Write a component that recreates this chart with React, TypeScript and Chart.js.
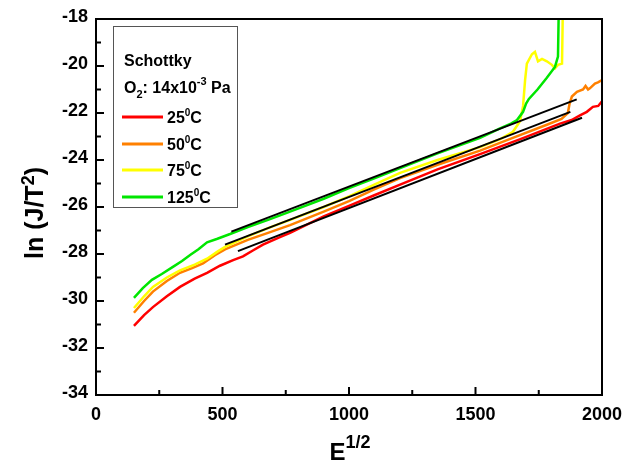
import React, { useEffect, useRef } from "react";
import { Chart, registerables } from "chart.js";
Chart.register(...registerables);

const FONT = '"Liberation Sans", Arial, sans-serif';

// ---- data ----
const redX = [150, 190, 225, 280, 332, 390, 439, 490, 542, 581, 620, 660, 727, 767, 900, 1000, 1100, 1202, 1350, 1518, 1680, 1834, 1880, 1913, 1940, 1964, 1985, 2000];
const redY = [-31.06, -30.6, -30.26, -29.8, -29.4, -29.05, -28.8, -28.5, -28.26, -28.1, -27.85, -27.6, -27.28, -27.1, -26.4, -25.95, -25.5, -25.05, -24.4, -23.75, -23.1, -22.45, -22.3, -22.1, -21.95, -21.74, -21.7, -21.5];

const orangeX = [150, 190, 225, 280, 332, 380, 423, 470, 510, 600, 680, 767, 900, 1000, 1100, 1202, 1350, 1518, 1650, 1782, 1840, 1865, 1872, 1881, 1901, 1925, 1935, 1945, 1952, 1972, 1984, 2000];
const orangeY = [-30.5, -30.0, -29.6, -29.15, -28.8, -28.6, -28.4, -28.05, -27.8, -27.4, -27.1, -26.77, -26.2, -25.75, -25.25, -24.77, -24.2, -23.6, -23.05, -22.5, -22.25, -22.0, -21.6, -21.3, -21.1, -21.0, -20.85, -21.0, -20.95, -20.75, -20.7, -20.6];

const yellowX = [150, 190, 225, 280, 332, 390, 439, 480, 510, 600, 680, 767, 900, 1000, 1100, 1202, 1350, 1518, 1600, 1648, 1676, 1688, 1696, 1703, 1723, 1735, 1747, 1763, 1782, 1802, 1814, 1826, 1842, 1846];
const yellowY = [-30.3, -29.8, -29.4, -29.0, -28.7, -28.45, -28.2, -27.9, -27.7, -27.25, -26.9, -26.55, -26.0, -25.55, -25.05, -24.55, -24.0, -23.45, -23.1, -22.8, -22.35, -21.7, -20.6, -19.9, -19.5, -19.4, -19.8, -19.7, -19.8, -19.95, -20.1, -19.95, -19.9, -17.0];

const greenX = [150, 185, 221, 260, 304, 340, 372, 405, 439, 480, 530, 600, 680, 767, 900, 1000, 1100, 1202, 1350, 1518, 1597, 1640, 1664, 1688, 1700, 1711, 1745, 1782, 1814, 1826, 1830];
const greenY = [-29.87, -29.45, -29.1, -28.85, -28.55, -28.3, -28.04, -27.8, -27.5, -27.35, -27.15, -26.85, -26.55, -26.2, -25.65, -25.2, -24.78, -24.34, -23.72, -23.06, -22.65, -22.45, -22.3, -21.95, -21.6, -21.4, -21.0, -20.5, -20.04, -19.6, -17.0];

const fitGreenX = [535, 1900];
const fitGreenY = [-27.05, -21.42];
const fitYellowX = [510, 1875];
const fitYellowY = [-27.6, -21.95];
const fitRedX = [561, 1921];
const fitRedY = [-27.88, -22.2];

const xMajorTicks = [0, 500, 1000, 1500, 2000];
const xMinorTicks = [250, 750, 1250, 1750];
const yMajorTicks = [-34, -32, -30, -28, -26, -24, -22, -20, -18];
const yMinorTicks = [-33, -31, -29, -27, -25, -23, -21, -19];

const legendTemps = ["25", "50", "75", "125"];
const legendColors = ["#ff0000", "#ff8000", "#ffff00", "#00e600"];

const toPts = (xs: number[], ys: number[]) => xs.map((x, i) => ({ x, y: ys[i] }));

function drawRuns(ctx: CanvasRenderingContext2D, x: number, y: number, runs: { t: string; size: number; dy: number }[], align: "left" | "center" = "left") {
  let total = 0;
  for (const r of runs) {
    ctx.font = `bold ${r.size}px ${FONT}`;
    total += ctx.measureText(r.t).width;
  }
  let cx = align === "center" ? x - total / 2 : x;
  for (const r of runs) {
    ctx.font = `bold ${r.size}px ${FONT}`;
    ctx.fillText(r.t, cx, y + r.dy);
    cx += ctx.measureText(r.t).width;
  }
}

const decorPlugin = {
  id: "decor",
  afterDatasetsDraw(chart: any) {
    const { ctx, chartArea } = chart;
    const { left, right, top, bottom } = chartArea;
    const xs = chart.scales.x;
    const ys = chart.scales.y;
    ctx.save();
    ctx.strokeStyle = "#000";
    ctx.lineWidth = 2;
    ctx.beginPath();
    for (const v of xMajorTicks) {
      const px = xs.getPixelForValue(v);
      ctx.moveTo(px, bottom);
      ctx.lineTo(px, bottom - 8);
    }
    for (const v of xMinorTicks) {
      const px = xs.getPixelForValue(v);
      ctx.moveTo(px, bottom);
      ctx.lineTo(px, bottom - 5);
    }
    for (const v of yMajorTicks) {
      const py = ys.getPixelForValue(v);
      ctx.moveTo(left, py);
      ctx.lineTo(left + 8, py);
    }
    for (const v of yMinorTicks) {
      const py = ys.getPixelForValue(v);
      ctx.moveTo(left, py);
      ctx.lineTo(left + 5, py);
    }
    ctx.stroke();
    ctx.strokeRect(left, top, right - left, bottom - top);

    // legend box
    ctx.lineWidth = 1;
    ctx.strokeStyle = "#555";
    ctx.fillStyle = "#fff";
    ctx.fillRect(113.5, 26.5, 124, 181);
    ctx.strokeRect(113.5, 26.5, 124, 181);
    ctx.fillStyle = "#000";
    ctx.textBaseline = "alphabetic";
    ctx.textAlign = "left";
    drawRuns(ctx, 124, 66, [{ t: "Schottky", size: 16, dy: 0 }]);
    drawRuns(ctx, 124, 93, [
      { t: "O", size: 16, dy: 0 },
      { t: "2", size: 11, dy: 5 },
      { t: ": 14x10", size: 16, dy: 0 },
      { t: "-3", size: 11, dy: -8 },
      { t: " Pa", size: 16, dy: 0 },
    ]);
    const rowY = [117, 144, 170, 197];
    legendTemps.forEach((t, i) => {
      ctx.strokeStyle = legendColors[i];
      ctx.lineWidth = 3;
      ctx.beginPath();
      ctx.moveTo(122, rowY[i]);
      ctx.lineTo(163, rowY[i]);
      ctx.stroke();
      ctx.fillStyle = "#000";
      drawRuns(ctx, 167, rowY[i] + 6, [
        { t: t, size: 16, dy: 0 },
        { t: "0", size: 10, dy: -7 },
        { t: "C", size: 16, dy: 0 },
      ]);
    });

    // axis titles
    ctx.fillStyle = "#000";
    ctx.save();
    ctx.translate(43, 213);
    ctx.rotate(-Math.PI / 2);
    drawRuns(ctx, 0, 0, [
      { t: "ln (J/T", size: 25, dy: 0 },
      { t: "2", size: 18, dy: -9 },
      { t: ")", size: 25, dy: 0 },
    ], "center");
    ctx.restore();
    drawRuns(ctx, 350, 460, [
      { t: "E", size: 24, dy: 0 },
      { t: "1/2", size: 18, dy: -12 },
    ], "center");
    ctx.restore();
  },
};

export default function App() {
  const ref = useRef<HTMLCanvasElement>(null);
  useEffect(() => {
    document.body.style.margin = "0";
    const line = (label: string, xs: number[], ys: number[], color: string, w: number) => ({
      label,
      data: toPts(xs, ys),
      borderColor: color,
      backgroundColor: color,
      borderWidth: w,
      pointRadius: 0,
      showLine: true,
      tension: 0,
    });
    const chart = new Chart(ref.current!, {
      type: "scatter",
      data: {
        datasets: [
          line("fit125", fitGreenX, fitGreenY, "#000", 2),
          line("fit75", fitYellowX, fitYellowY, "#000", 2),
          line("fit25", fitRedX, fitRedY, "#000", 2),
          line("125", greenX, greenY, "#00e600", 2.5),
          line("75", yellowX, yellowY, "#ffff00", 2.5),
          line("50", orangeX, orangeY, "#ff8000", 2.5),
          line("25", redX, redY, "#ff0000", 2.5),
        ] as any,
      },
      options: {
        animation: false,
        responsive: false,
        devicePixelRatio: 1,
        layout: { padding: { top: 19, right: 21, left: 0, bottom: 0 } },
        plugins: { legend: { display: false }, tooltip: { enabled: false } },
        scales: {
          x: {
            type: "linear",
            min: 0,
            max: 2000,
            grid: { display: false, drawTicks: false },
            border: { display: false },
            ticks: {
              stepSize: 500,
              autoSkip: false,
              maxRotation: 0,
              padding: 9,
              color: "#000",
              font: { family: FONT, size: 18, weight: "bold" },
              callback: (v: any) => String(v),
            },
            afterFit: (s: any) => {
              s.height = 75;
              s.paddingLeft = 0;
              s.paddingRight = 0;
            },
          },
          y: {
            type: "linear",
            min: -34,
            max: -18,
            grid: { display: false, drawTicks: false },
            border: { display: false },
            ticks: {
              stepSize: 2,
              autoSkip: false,
              padding: 8,
              labelOffset: -2,
              color: "#000",
              font: { family: FONT, size: 18, weight: "bold" },
              callback: (v: any) => String(v),
            },
            afterFit: (s: any) => {
              s.width = 96;
              s.paddingTop = 0;
              s.paddingBottom = 0;
            },
          },
        },
      } as any,
      plugins: [decorPlugin],
    });
    return () => chart.destroy();
  }, []);
  return (
    <div style={{ position: "absolute", left: 0, top: 0, width: 623, height: 470, background: "#fff" }}>
      <canvas ref={ref} width={623} height={470} style={{ display: "block" }} />
    </div>
  );
}
